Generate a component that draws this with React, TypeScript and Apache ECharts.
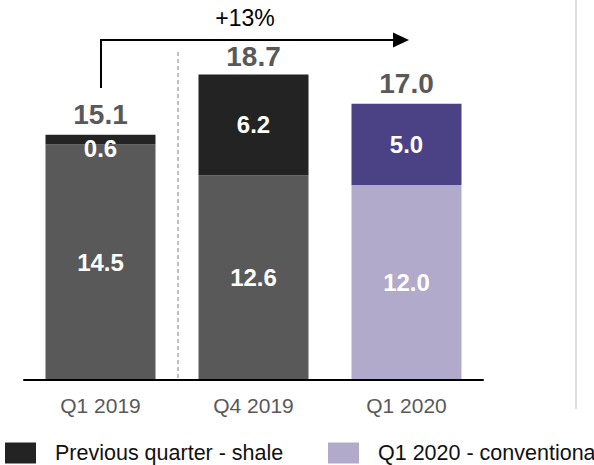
import React, { useEffect, useRef } from "react";
import * as echarts from "echarts";

const categories = ["Q1 2019", "Q4 2019", "Q1 2020"];
const baseValues = [14.5, 12.6, 12.0];
const topValues = [0.6, 6.2, 5.0];
const totals = [15.1, 18.7, 17.0];
const growthLabel = "+13%";
const legendShale = "Previous quarter - shale";
const legendConventional = "Q1 2020 - conventional";

const FONT = "'Liberation Sans', Arial, sans-serif";
const GREY = "#595959";
const BLACK = "#232323";
const PURPLE = "#4b4185";
const LIGHT = "#b1aaca";

export default function App() {
  const ref = useRef<HTMLDivElement>(null);
  useEffect(() => {
    if (!ref.current) return;
    const chart = echarts.init(ref.current, null, { renderer: "svg" });
    const insideLabel = {
      show: true,
      position: "inside",
      color: "#ffffff",
      fontFamily: FONT,
      fontWeight: "bold",
      fontSize: 24,
      formatter: (p: any) => Number(p.value).toFixed(1),
    };
    const legendCommon = {
      top: 442,
      padding: 0,
      itemWidth: 31,
      itemHeight: 21,
      icon: "rect",
      selectedMode: false,
      textStyle: { color: "#111111", fontSize: 21.5, fontFamily: FONT, padding: [0, 0, 0, 14] },
    };
    chart.setOption({
      animation: false,
      textStyle: { fontFamily: FONT },
      grid: { left: 24, right: 111, top: 55, bottom: 85, containLabel: false },
      xAxis: {
        type: "category",
        data: categories,
        axisLine: { show: true, lineStyle: { color: "#000000", width: 2 } },
        axisTick: { show: false },
        axisLabel: { color: GREY, fontSize: 21, fontFamily: FONT, margin: 15 },
        z: 10,
      },
      yAxis: { type: "value", min: 0, max: 20, show: false, splitLine: { show: false } },
      legend: [
        { ...legendCommon, data: [legendShale], left: 5 },
        { ...legendCommon, data: [legendConventional], left: 328 },
      ],
      series: [
        {
          name: legendConventional,
          type: "bar",
          stack: "a",
          barWidth: 110,
          itemStyle: { color: LIGHT },
          label: insideLabel,
          data: baseValues.map((v, i) => ({
            value: v,
            itemStyle: { color: i < 2 ? GREY : LIGHT },
          })),
        },
        {
          name: legendShale,
          type: "bar",
          stack: "a",
          barWidth: 110,
          itemStyle: { color: BLACK },
          label: insideLabel,
          data: topValues.map((v, i) => ({
            value: v,
            itemStyle: { color: i < 2 ? BLACK : PURPLE },
            label: i === 0 ? { offset: [0, 9] } : undefined,
          })),
        },
        {
          name: "Total",
          type: "bar",
          barWidth: 110,
          barGap: "-100%",
          z: 1,
          itemStyle: { color: "rgba(0,0,0,0)" },
          label: {
            show: true,
            position: "top",
            distance: 6,
            color: GREY,
            fontFamily: FONT,
            fontWeight: "bold",
            fontSize: 28,
            formatter: (p: any) => Number(p.value).toFixed(1),
          },
          data: totals,
        },
      ],
      graphic: [
        {
          type: "polyline",
          shape: { points: [[101, 88], [101, 40], [395, 40]] },
          style: { stroke: "#000000", lineWidth: 2, fill: "none" },
        },
        {
          type: "polygon",
          shape: { points: [[393, 32.5], [409, 40], [393, 47.5]] },
          style: { fill: "#000000" },
        },
        {
          type: "text",
          x: 245,
          y: 18,
          style: {
            text: growthLabel,
            fontSize: 23,
            fontFamily: FONT,
            fill: "#000000",
            align: "center",
            verticalAlign: "middle",
          },
        },
        {
          type: "line",
          shape: { x1: 178, y1: 52, x2: 178, y2: 379 },
          style: { stroke: "#7f7f7f", lineWidth: 1, lineDash: [4, 3] },
        },
        {
          type: "line",
          shape: { x1: 576, y1: 0, x2: 576, y2: 409 },
          style: { stroke: "#dedede", lineWidth: 2 },
        },
      ],
    });
    return () => chart.dispose();
  }, []);
  return <div ref={ref} style={{ width: 594, height: 465, position: "absolute", left: 0, top: 0 }} />;
}
